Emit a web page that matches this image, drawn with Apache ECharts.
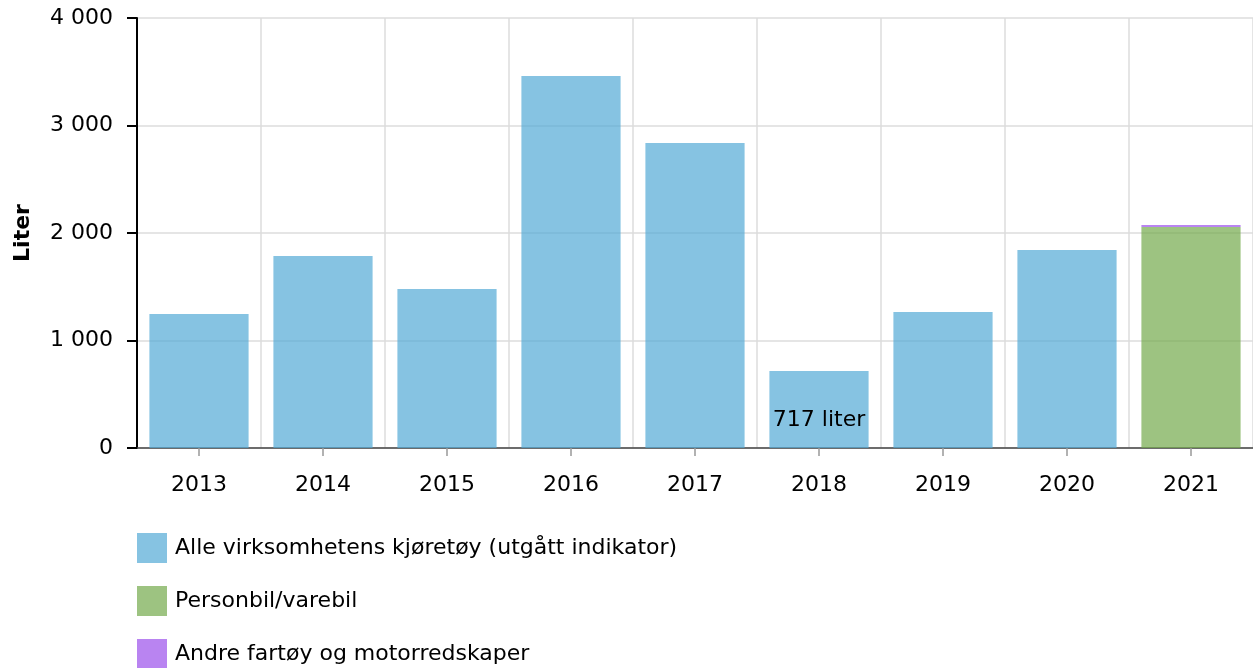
<!DOCTYPE html>
<html>
<head>
<meta charset="utf-8">
<script src="https://cdn.jsdelivr.net/npm/echarts@6/dist/echarts.min.js"></script>
<style>
html,body{margin:0;padding:0;background:#fff;}
#chart{width:1253px;height:668px;}
</style>
</head>
<body>
<div id="chart"></div>
<script>
const years = ['2013','2014','2015','2016','2017','2018','2019','2020','2021'];
const seriesNames = ['Alle virksomhetens kjøretøy (utgått indikator)','Personbil/varebil','Andre fartøy og motorredskaper'];
const alleValues = [1247, 1786, 1479, 3460, 2837, 717, 1265, 1842, null];
const personbilValues = [null, null, null, null, null, null, null, null, 2055];
const andreValues = [null, null, null, null, null, null, null, null, 20];
const yTicks = [0, 1000, 2000, 3000, 4000];
const labelYear = '2018';

const FONT = 'DejaVu Sans';
const FS = 22;

function fmt(v){ return String(v).replace(/\B(?=(\d{3})+(?!\d))/g, ' '); }

const chart = echarts.init(document.getElementById('chart'), null, {renderer:'canvas'});
const alleData = alleValues.map((v,i)=> {
  if (years[i] === labelYear) {
    return {value: v, label: {show: true, position: 'insideBottom', distance: 17,
      formatter: p => p.value + ' liter', color: '#000', fontSize: FS, fontFamily: FONT}};
  }
  return v;
});
chart.setOption({
  animation: false,
  textStyle: {fontFamily: FONT},
  grid: {left: 137, right: 0, top: 18, bottom: 220, containLabel: false},
  legend: {
    orient: 'vertical', left: 137, top: 533, height: 200, padding: 0,
    itemWidth: 30, itemHeight: 30, itemGap: 23,
    icon: 'rect',
    textStyle: {fontSize: FS, fontFamily: FONT, color: '#000', padding: [0,0,0,3]},
    data: seriesNames
  },
  xAxis: {
    type: 'category', data: years,
    axisLine: {lineStyle: {color: '#444', width: 1.5}},
    axisTick: {show: true, alignWithLabel: true, length: 8, lineStyle: {color: '#999', width: 1.5}},
    axisLabel: {fontSize: FS, fontFamily: FONT, color: '#000', margin: 26},
    splitLine: {show: true, lineStyle: {color: '#dcdcdc', width: 1.5}}
  },
  yAxis: {
    type: 'value', min: yTicks[0], max: yTicks[yTicks.length-1], interval: 1000,
    name: 'Liter', nameLocation: 'middle', nameGap: 103, nameRotate: 90,
    nameTextStyle: {fontSize: FS, fontWeight: 'bold', fontFamily: FONT, color: '#000'},
    axisLine: {show: true, lineStyle: {color: '#000', width: 2}},
    axisTick: {show: true, length: 10, lineStyle: {color: '#000', width: 2}},
    axisLabel: {fontSize: FS, fontFamily: FONT, color: '#000', margin: 24, formatter: v => fmt(v)},
    splitLine: {show: true, lineStyle: {color: '#dcdcdc', width: 1.5}}
  },
  series: [
    {name: seriesNames[0], type: 'bar', stack: 'tot', barCategoryGap: '20%', data: alleData,
     itemStyle: {color: 'rgba(82,169,214,0.7)'}},
    {name: seriesNames[1], type: 'bar', stack: 'tot', data: personbilValues,
     itemStyle: {color: 'rgba(115,170,75,0.7)'}},
    {name: seriesNames[2], type: 'bar', stack: 'tot', data: andreValues,
     itemStyle: {color: 'rgba(155,80,235,0.7)'}}
  ]
});
</script>
</body>
</html>
